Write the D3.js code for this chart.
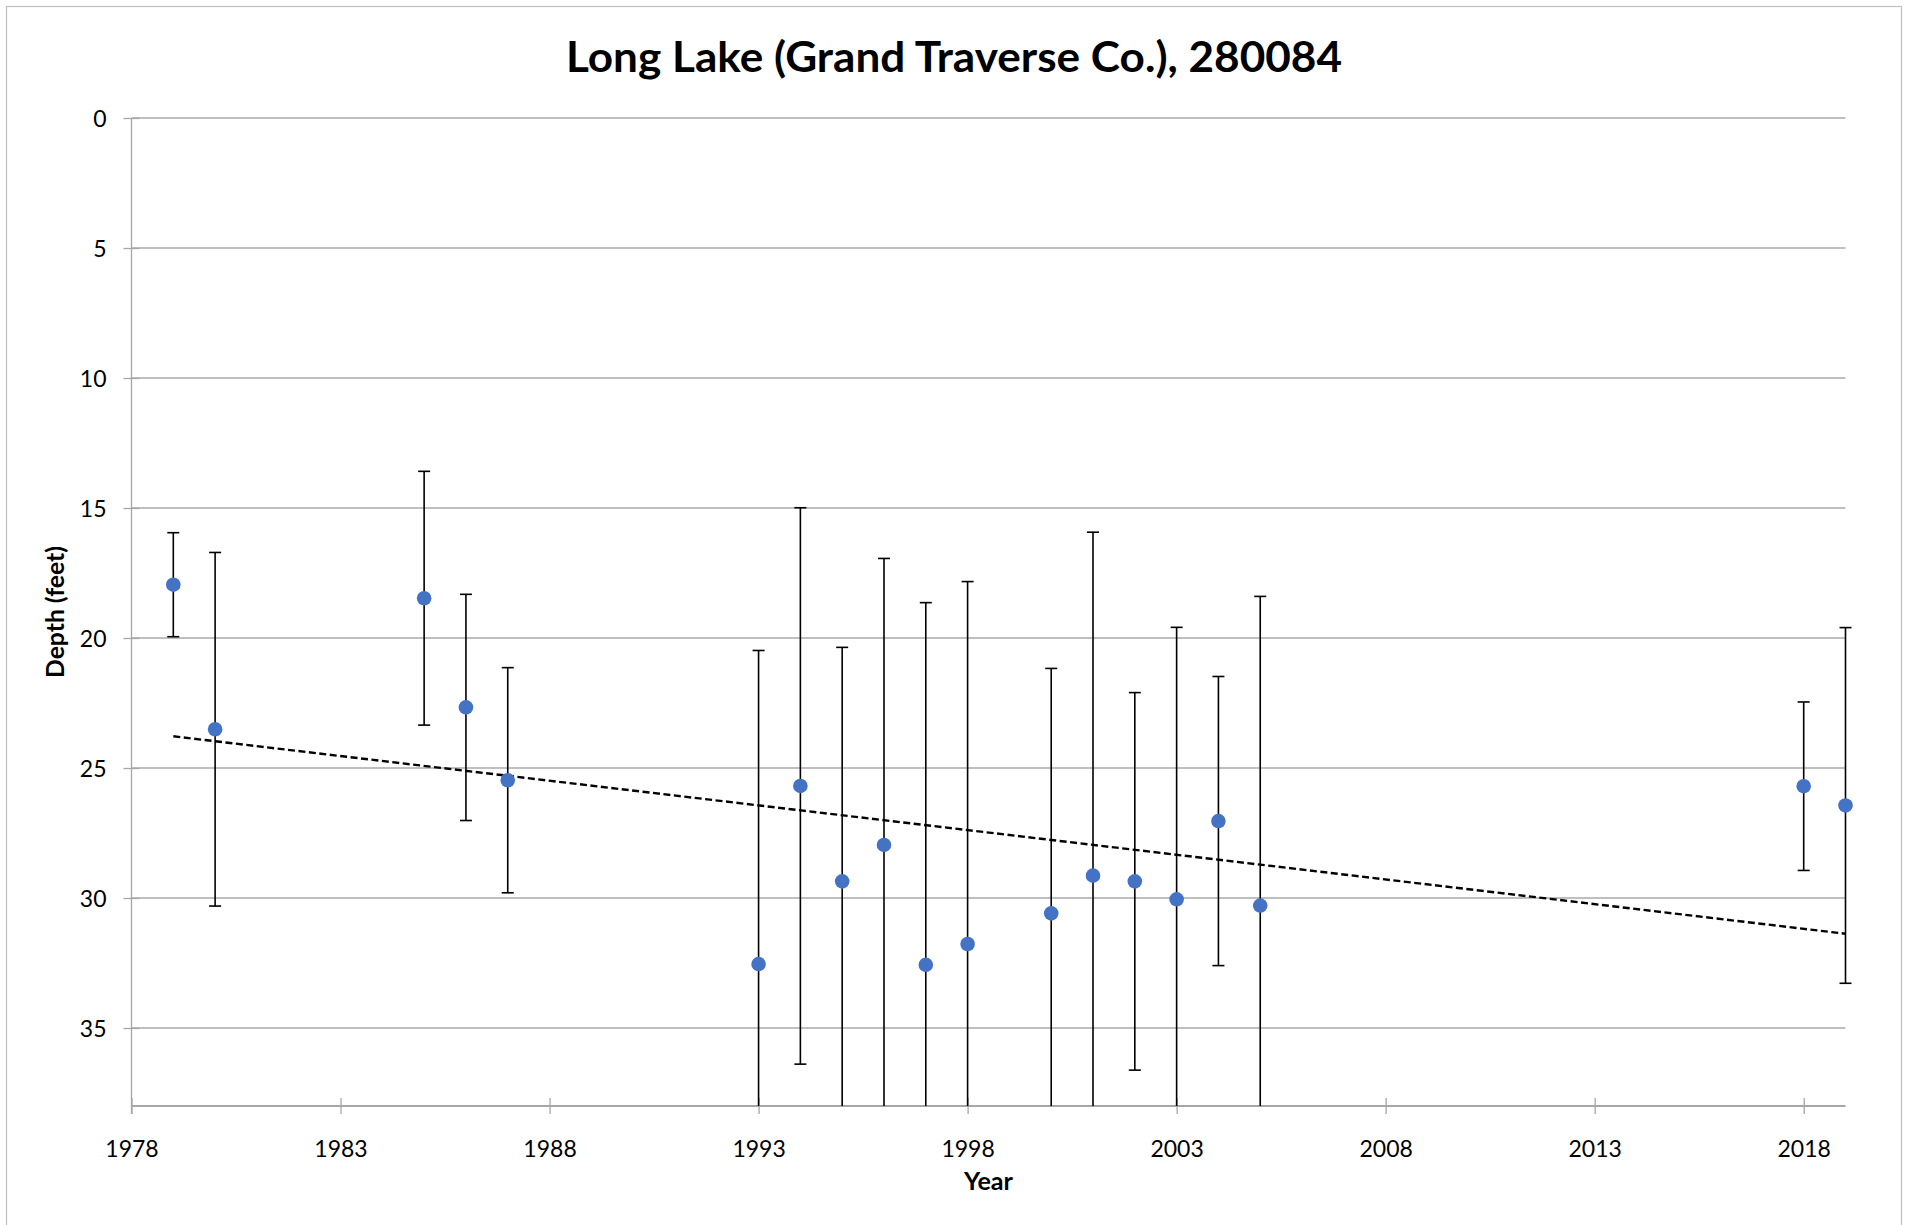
<!DOCTYPE html>
<html>
<head>
<meta charset="utf-8">
<script src="https://cdn.jsdelivr.net/npm/d3@7"></script>
<style>
  html, body { margin: 0; padding: 0; background: #fff; }
  svg { display: block; }
  text { font-family: Lato, "Open Sans", sans-serif; fill: #000; }
</style>
</head>
<body>
<script>
// ---- data ----
const titleText = "Long Lake (Grand Traverse Co.), 280084";
const xLabel = "Year";
const yLabel = "Depth (feet)";
const years  = [1979, 1980, 1985, 1986, 1987, 1993, 1994, 1995, 1996, 1997, 1998, 2000, 2001, 2002, 2003, 2004, 2005, 2018, 2019];
const depths = [17.95, 23.51, 18.47, 22.67, 25.47, 32.54, 25.69, 29.36, 27.96, 32.57, 31.77, 30.59, 29.14, 29.36, 30.05, 27.04, 30.29, 25.70, 26.44];
const errors = [2.0, 6.8, 4.88, 4.35, 4.33, 12.06, 10.7, 9.0, 11.02, 13.93, 13.94, 9.42, 13.21, 7.26, 10.46, 5.56, 11.89, 3.24, 6.84];
const xTicks = [1978, 1983, 1988, 1993, 1998, 2003, 2008, 2013, 2018];
const yTicks = [0, 5, 10, 15, 20, 25, 30, 35];
const xDomain = [1978, 2019];
const yDomain = [0, 38];

// ---- layout ----
const W = 1906, H = 1225;
const plot = { left: 131.5, right: 1845.5, top: 118, bottom: 1106 };

const svg = d3.select("body").append("svg").attr("width", W).attr("height", H);
svg.append("rect").attr("width", W).attr("height", H).attr("fill", "#fff");
// chart area border
svg.append("rect").attr("x", 6.5).attr("y", 6.5).attr("width", 1895).attr("height", 1240)
  .attr("fill", "none").attr("stroke", "#BFBFBF").attr("stroke-width", 1.2);

const x = d3.scaleLinear().domain(xDomain).range([plot.left, plot.right]);
const y = d3.scaleLinear().domain(yDomain).range([plot.top, plot.bottom]);

// gridlines
svg.append("g").selectAll("line").data(yTicks).join("line")
  .attr("x1", plot.left).attr("x2", plot.right)
  .attr("y1", d => y(d)).attr("y2", d => y(d))
  .attr("stroke", "#BFBFBF").attr("stroke-width", 2);

// y axis
const yAxis = d3.axisLeft(y).tickValues(yTicks).tickSize(8).tickPadding(17).tickFormat(d3.format("d"));
const gy = svg.append("g").attr("transform", `translate(${plot.left},0)`).call(yAxis);
gy.select(".domain").remove();
gy.append("line").attr("x1", 0).attr("x2", 0).attr("y1", plot.top).attr("y2", plot.bottom + 8)
  .attr("stroke", "#A6A6A6").attr("stroke-width", 1.3);
gy.selectAll(".tick line").attr("x1", 8).attr("x2", -8).attr("stroke", "#A6A6A6").attr("stroke-width", 1.3);
gy.selectAll(".tick text").attr("font-size", 23).attr("font-family", "Lato").attr("fill", "#000").attr("dy", "0.36em");

// x axis
const xAxis = d3.axisBottom(x).tickValues(xTicks).tickSize(8).tickPadding(26).tickFormat(d3.format("d"));
const gx = svg.append("g").attr("transform", `translate(0,${plot.bottom})`).call(xAxis);
gx.select(".domain").remove();
gx.append("line").attr("x1", plot.left).attr("x2", plot.right).attr("y1", 0).attr("y2", 0)
  .attr("stroke", "#A6A6A6").attr("stroke-width", 2.2);
gx.selectAll(".tick line").attr("y1", -8).attr("y2", 8).attr("stroke", "#A6A6A6").attr("stroke-width", 1.3);
gx.selectAll(".tick text").attr("font-size", 23).attr("font-family", "Lato").attr("fill", "#000").attr("dy", "0.72em");

// clip for error bars (vertical only)
svg.append("clipPath").attr("id", "plotclip").append("rect")
  .attr("x", 0).attr("y", plot.top - 1).attr("width", W).attr("height", plot.bottom - plot.top + 1);

const pts = years.map((yr, i) => ({ yr, d: depths[i], e: errors[i] }));

const eb = svg.append("g").attr("clip-path", "url(#plotclip)")
  .attr("stroke", "#000").attr("stroke-width", 1.6);
eb.selectAll("line.v").data(pts).join("line").attr("class", "v")
  .attr("x1", p => x(p.yr)).attr("x2", p => x(p.yr))
  .attr("y1", p => y(p.d - p.e)).attr("y2", p => y(p.d + p.e));
eb.selectAll("line.ct").data(pts).join("line").attr("class", "ct")
  .attr("x1", p => x(p.yr) - 6).attr("x2", p => x(p.yr) + 6)
  .attr("y1", p => y(p.d - p.e)).attr("y2", p => y(p.d - p.e));
eb.selectAll("line.cb").data(pts.filter(p => p.d + p.e <= yDomain[1])).join("line").attr("class", "cb")
  .attr("x1", p => x(p.yr) - 6).attr("x2", p => x(p.yr) + 6)
  .attr("y1", p => y(p.d + p.e)).attr("y2", p => y(p.d + p.e));

// linear trendline (least squares)
const mx = d3.mean(years), my = d3.mean(depths);
const sxy = d3.sum(years, (v, i) => (v - mx) * (depths[i] - my));
const sxx = d3.sum(years, v => (v - mx) * (v - mx));
const slope = sxy / sxx, icpt = my - slope * mx;
const xr = d3.extent(years);
svg.append("path")
  .datum(xr.map(v => [v, icpt + slope * v]))
  .attr("d", d3.line().x(d => x(d[0])).y(d => y(d[1])))
  .attr("fill", "none").attr("stroke", "#000").attr("stroke-width", 2.4)
  .attr("stroke-dasharray", "7,3.5");

// points
svg.append("g").selectAll("circle").data(pts).join("circle")
  .attr("cx", p => x(p.yr)).attr("cy", p => y(p.d)).attr("r", 7.3)
  .attr("fill", "#4472C4");

// titles
function fit(sel, target) {
  const len = sel.node().getComputedTextLength();
  const fs = parseFloat(sel.attr("font-size"));
  sel.attr("font-size", fs * target / len);
}
const t = svg.append("text").attr("x", 954).attr("y", 72).attr("text-anchor", "middle")
  .attr("font-size", 42).attr("font-weight", "bold").text(titleText);
t.attr("textLength", 776).attr("lengthAdjust", "spacingAndGlyphs");

const xl = svg.append("text").attr("x", (plot.left + plot.right) / 2).attr("y", 1189.5)
  .attr("text-anchor", "middle").attr("font-size", 24).attr("font-weight", "bold").text(xLabel);
fit(xl, 49);

const yl = svg.append("text")
  .attr("transform", `translate(63.5,${(plot.top + plot.bottom) / 2}) rotate(-90)`)
  .attr("text-anchor", "middle").attr("font-size", 24).attr("font-weight", "bold").text(yLabel);
fit(yl, 132);
</script>
</body>
</html>
